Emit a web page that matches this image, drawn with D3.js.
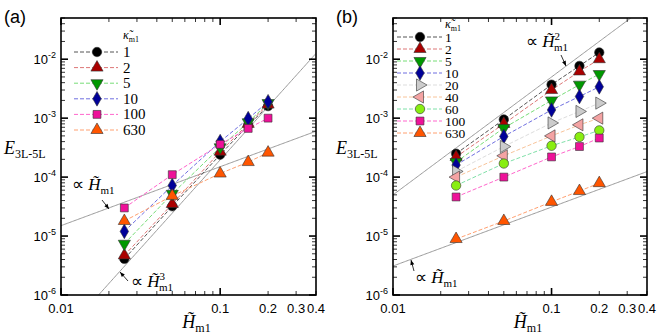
<!DOCTYPE html>
<html><head><meta charset="utf-8">
<script src="https://cdn.jsdelivr.net/npm/d3@7"></script>
<style>body{margin:0;background:#fff}svg{display:block}</style>
</head><body>
<svg id="c" width="664" height="335"></svg>
<script>
// ---- data ----
const H = [0.025, 0.05, 0.1, 0.15, 0.2];
const kappaA = ["1", "2", "5", "10", "100", "630"];
const valuesA = [
  [4.1e-6, 3.2e-5, 2.4e-4, 7.6e-4, 1.6e-3],
  [4.7e-6, 3.5e-5, 2.7e-4, 8.0e-4, 1.7e-3],
  [7.4e-6, 5.2e-5, 3.2e-4, 8.5e-4, 1.8e-3],
  [1.2e-5, 7.2e-5, 4.0e-4, 9.8e-4, 1.9e-3],
  [3.0e-5, 1.1e-4, 3.6e-4, 6.7e-4, 1.0e-3],
  [1.8e-5, 4.8e-5, 1.15e-4, 1.8e-4, 2.6e-4]
];
const kappaB = ["1", "2", "5", "10", "20", "40", "60", "100", "630"];
const valuesB = [
  [2.5e-4, 9.5e-4, 3.7e-3, 7.7e-3, 1.3e-2],
  [2.2e-4, 8.0e-4, 3.0e-3, 6.2e-3, 1.0e-2],
  [1.8e-4, 6.8e-4, 2.0e-3, 3.7e-3, 5.6e-3],
  [1.6e-4, 4.9e-4, 1.38e-3, 2.33e-3, 3.4e-3],
  [1.25e-4, 3.3e-4, 8.3e-4, 1.3e-3, 1.8e-3],
  [1.0e-4, 2.3e-4, 5.0e-4, 7.7e-4, 1.0e-3],
  [7.2e-5, 1.7e-4, 3.4e-4, 4.8e-4, 6.2e-4],
  [4.6e-5, 1.0e-4, 2.2e-4, 3.3e-4, 4.6e-4],
  [8.9e-6, 1.8e-5, 3.8e-5, 5.8e-5, 7.9e-5]
];
const xTickLabels = ["0.01", "0.1", "0.2", "0.3", "0.4"];
const xTickValues = [0.01, 0.1, 0.2, 0.3, 0.4];
const yTickValues = [1e-6, 1e-5, 1e-4, 1e-3, 1e-2];
const yTickExps = ["-6", "-5", "-4", "-3", "-2"];
// reference power laws: E = c * H^p
const refA = [{c: 1.5e-3, p: 1}, {c: 0.196, p: 3}];
const refB = [{c: 0.5, p: 2}, {c: 3.1e-4, p: 1}];

// ---- styles ----
const styles = {
  "1":   {sym: "circle",   rot: 0,   fill: "#000000", line: "#555555"},
  "2":   {sym: "triangle", rot: 0,   fill: "#aa0000", line: "#dd7777"},
  "5":   {sym: "triangle", rot: 180, fill: "#009900", line: "#77dd77"},
  "10":  {sym: "diamond",  rot: 0,   fill: "#000099", line: "#6f6fe0"},
  "20":  {sym: "triangle", rot: 90,  fill: "#cccccc", line: "#dddddd"},
  "40":  {sym: "triangle", rot: -90, fill: "#f4a3a3", line: "#f8c49a"},
  "60":  {sym: "circle",   rot: 0,   fill: "#88ee11", line: "#7fe0a8"},
  "100": {sym: "square",   rot: 0,   fill: "#ee1199", line: "#ff66cc"},
  "630": {sym: "triangle", rot: 0,   fill: "#ff5500", line: "#ffa070"}
};
const symTypes = {circle: d3.symbolCircle, triangle: d3.symbolTriangle, diamond: d3.symbolDiamond, square: d3.symbolSquare};
const symSizes = {circle: 70, triangle: 64, diamond: 62, square: 62};
function symPath(st) { return d3.symbol().type(symTypes[st.sym]).size(symSizes[st.sym])(); }

const svg = d3.select("#c");
const sans = "Liberation Sans, Arial, sans-serif";
const serif = "Liberation Serif, Times New Roman, serif";

function drawPanel(opt) {
  const x = d3.scaleLog().domain([0.01, 0.4]).range([opt.left, opt.right]);
  const y = d3.scaleLog().domain([1e-6, 0.05]).range([295, 18]);
  const g = svg.append("g");
  const clipId = "clip" + opt.id;
  svg.append("clipPath").attr("id", clipId).append("rect")
    .attr("x", opt.left).attr("y", 18).attr("width", opt.right - opt.left).attr("height", 277);

  // reference lines
  const hs = d3.range(0, 201).map(i => 0.01 * Math.pow(40, i / 200));
  opt.refs.forEach(r => {
    g.append("path").attr("clip-path", `url(#${clipId})`)
      .attr("d", d3.line().x(h => x(h)).y(h => y(r.c * Math.pow(h, r.p)))(hs))
      .attr("fill", "none").attr("stroke", "#999").attr("stroke-width", 1);
  });

  // series lines
  opt.kappa.forEach((k, i) => {
    const st = styles[k];
    g.append("path")
      .attr("d", d3.line().x((d, j) => x(H[j])).y(d => y(d))(opt.values[i]))
      .attr("fill", "none").attr("stroke", st.line).attr("stroke-width", 1)
      .attr("stroke-dasharray", "4,2");
  });
  // markers
  opt.kappa.forEach((k, i) => {
    const st = styles[k];
    opt.values[i].forEach((v, j) => {
      g.append("path").attr("d", symPath(st))
        .attr("transform", `translate(${x(H[j])},${y(v)}) rotate(${st.rot})`)
        .attr("fill", st.fill).attr("stroke", "#333").attr("stroke-width", 0.6);
    });
  });

  // axes frame
  const ax = svg.append("g");
  ax.append("rect").attr("x", opt.left).attr("y", 18).attr("width", opt.right - opt.left).attr("height", 277)
    .attr("fill", "none").attr("stroke", "#000").attr("stroke-width", 1.6);
  // y ticks
  const yMinor = [];
  for (let e = -6; e <= -2; e++) for (let m = 2; m <= 9; m++) { const v = m * Math.pow(10, e); if (v <= 0.05) yMinor.push(v); }
  yTickValues.forEach(v => {
    ax.append("line").attr("x1", opt.left).attr("x2", opt.left + 7).attr("y1", y(v)).attr("y2", y(v)).attr("stroke", "#000").attr("stroke-width", 1.6);
    ax.append("line").attr("x1", opt.right).attr("x2", opt.right - 7).attr("y1", y(v)).attr("y2", y(v)).attr("stroke", "#000").attr("stroke-width", 1.6);
  });
  yMinor.forEach(v => {
    ax.append("line").attr("x1", opt.left).attr("x2", opt.left + 4).attr("y1", y(v)).attr("y2", y(v)).attr("stroke", "#000").attr("stroke-width", 0.8);
    ax.append("line").attr("x1", opt.right).attr("x2", opt.right - 4).attr("y1", y(v)).attr("y2", y(v)).attr("stroke", "#000").attr("stroke-width", 0.8);
  });
  // x ticks
  const xMajor = [0.01, 0.1];
  const xMinor = [];
  for (let m = 2; m <= 9; m++) xMinor.push(m * 0.01);
  for (let m = 2; m <= 4; m++) xMinor.push(m * 0.1);
  xMajor.forEach(v => {
    ax.append("line").attr("x1", x(v)).attr("x2", x(v)).attr("y1", 295).attr("y2", 288).attr("stroke", "#000").attr("stroke-width", 1.6);
    ax.append("line").attr("x1", x(v)).attr("x2", x(v)).attr("y1", 18).attr("y2", 25).attr("stroke", "#000").attr("stroke-width", 1.6);
  });
  xMinor.forEach(v => {
    ax.append("line").attr("x1", x(v)).attr("x2", x(v)).attr("y1", 295).attr("y2", 291).attr("stroke", "#000").attr("stroke-width", 0.8);
    ax.append("line").attr("x1", x(v)).attr("x2", x(v)).attr("y1", 18).attr("y2", 22).attr("stroke", "#000").attr("stroke-width", 0.8);
  });
  // x tick labels
  xTickValues.forEach((v, i) => {
    ax.append("text").attr("x", x(v)).attr("y", 313).attr("text-anchor", "middle")
      .attr("font-family", sans).attr("font-size", 13).text(xTickLabels[i]);
  });
  // y tick labels
  yTickValues.forEach((v, i) => {
    const t = ax.append("text").attr("x", opt.left - 5).attr("y", y(v) + 5).attr("text-anchor", "end")
      .attr("font-family", sans).attr("font-size", 13);
    t.append("tspan").text("10");
    t.append("tspan").attr("font-size", 9).attr("dy", -6).text(yTickExps[i]);
  });

  // panel label
  svg.append("text").attr("x", opt.left - 57).attr("y", 23).attr("font-family", sans).attr("font-size", 18).text(opt.label);
  // y label
  const yl = svg.append("text").attr("x", opt.left - 57).attr("y", 154).attr("font-family", serif).attr("font-size", 18);
  yl.append("tspan").attr("font-style", "italic").text("E");
  yl.append("tspan").attr("font-size", 12).attr("dy", 4).text("3L-5L");
  // x label
  const xl = svg.append("text").attr("x", (opt.left + opt.right) / 2 + 8).attr("y", 328).attr("text-anchor", "middle").attr("font-family", serif).attr("font-size", 18);
  xl.append("tspan").attr("font-style", "italic").text("H\u0303");
  xl.append("tspan").attr("font-size", 12).attr("dy", 4).text("m1");

  // legend
  const L = opt.legend;
  const lt = svg.append("text").attr("x", L.textX).attr("y", L.titleY).attr("font-family", serif).attr("font-size", 12);
  lt.append("tspan").attr("font-style", "italic").text("\u03BA\u0303");
  lt.append("tspan").attr("font-size", 8).attr("dy", 3).text("m1");
  opt.kappa.forEach((k, i) => {
    const st = styles[k];
    const yy = L.y0 + i * L.dy;
    svg.append("line").attr("x1", L.x1).attr("x2", L.x2).attr("y1", yy).attr("y2", yy)
      .attr("stroke", st.line).attr("stroke-width", 1).attr("stroke-dasharray", "4,2");
    svg.append("path").attr("d", symPath(st)).attr("transform", `translate(${L.mx},${yy}) rotate(${st.rot})`)
      .attr("fill", st.fill).attr("stroke", "#333").attr("stroke-width", 0.6);
    svg.append("text").attr("x", L.textX).attr("y", yy + L.fs / 3).attr("font-family", serif).attr("font-size", L.fs).text(k);
  });

  // annotations
  opt.notes.forEach(n => {
    const t = svg.append("text").attr("x", n.x).attr("y", n.y).attr("font-family", serif).attr("font-size", 17);
    t.append("tspan").text("\u221D ");
    t.append("tspan").attr("font-style", "italic").text("H\u0303");
    if (n.sup) {
      t.append("tspan").attr("font-size", 11).attr("dy", -7).text(n.sup);
      t.append("tspan").attr("font-size", 11).attr("dx", -6).attr("dy", 11).text("m1");
    } else {
      t.append("tspan").attr("font-size", 11).attr("dy", 4).text("m1");
    }
    svg.append("line").attr("x1", n.ax1).attr("y1", n.ay1).attr("x2", n.ax2).attr("y2", n.ay2)
      .attr("stroke", "#000").attr("stroke-width", 0.8);
    const ang = Math.atan2(n.ay2 - n.ay1, n.ax2 - n.ax1) * 180 / Math.PI;
    svg.append("path").attr("d", "M0,0 L-5,-2 L-5,2 Z").attr("transform", `translate(${n.ax2},${n.ay2}) rotate(${ang})`).attr("fill", "#000");
  });
}

drawPanel({
  id: "a", label: "(a)", left: 61, right: 316, kappa: kappaA, values: valuesA, refs: refA,
  legend: {x1: 74, x2: 118, mx: 97, textX: 123, titleY: 39, y0: 52, dy: 15.6, fs: 15},
  notes: [
    {x: 72, y: 190, sup: null, ax1: 102, ay1: 200, ax2: 109, ay2: 209},
    {x: 131, y: 287, sup: "3", ax1: 128, ay1: 281, ax2: 120, ay2: 272}
  ]
});
drawPanel({
  id: "b", label: "(b)", left: 393, right: 647, kappa: kappaB, values: valuesB, refs: refB,
  legend: {x1: 397, x2: 442, mx: 420, textX: 445, titleY: 28, y0: 37, dy: 12, fs: 13.5},
  notes: [
    {x: 526, y: 47, sup: "2", ax1: 561, ay1: 55, ax2: 566, ay2: 66},
    {x: 415, y: 283, sup: null, ax1: 414, ay1: 271, ax2: 411, ay2: 260}
  ]
});
</script>
</body></html>
